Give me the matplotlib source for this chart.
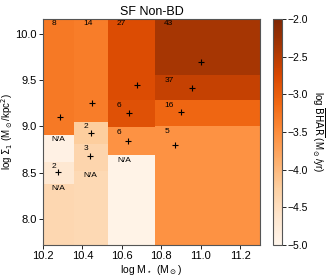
import numpy as np
import matplotlib
matplotlib.use("Agg")
import matplotlib.pyplot as plt

plt.rcParams['font.family'] = ['Liberation Sans', 'DejaVu Sans']

# mass bin edges (log M*)
x_edges = [10.2, 10.36, 10.53, 10.77, 11.3]

# sigma1 bin edges per mass column (bottom -> top)
y_edges = [
    [7.72, 8.38, 8.62, 8.91, 10.16],
    [7.72, 8.52, 8.81, 9.05, 10.16],
    [7.72, 8.69, 8.99, 9.28, 10.16],
    [7.72, 9.00, 9.28, 9.55, 10.16],
]

# log mean BHAR per bin (bottom -> top)
bhar = [
    [-4.37, -4.67, -4.90, -3.30],
    [-4.40, -4.34, -4.22, -3.33],
    [-4.95, -3.55, -2.85, -2.80],
    [-3.55, -3.10, -2.60, -2.38],
]

# number of sources per bin (None = N/A)
counts = [
    [None, 2, None, 8],
    [None, 3, 2, 14],
    [None, 6, 6, 27],
    [5, 16, 37, 43],
]

# mean positions of sources in each populated bin
pts_x = [10.285, 10.275, 10.45, 10.445, 10.44, 10.675, 10.635, 10.63, 11.0, 10.955, 10.90, 10.87]
pts_y = [9.10, 8.505, 9.25, 8.925, 8.68, 9.45, 9.14, 8.84, 9.70, 9.42, 9.16, 8.80]

fig = plt.figure(figsize=(3.3, 2.79), dpi=100)
ax = fig.add_axes([0.130, 0.122, 0.658, 0.810])
cax = fig.add_axes([0.827, 0.122, 0.028, 0.810])

for i in range(len(x_edges) - 1):
    xe = [x_edges[i], x_edges[i + 1]]
    ye = y_edges[i]
    vals = np.array(bhar[i]).reshape(-1, 1)
    mesh = ax.pcolormesh(xe, ye, vals, cmap='Oranges', vmin=-5, vmax=-2)
    for j, c in enumerate(counts[i]):
        label = 'N/A' if c is None else str(c)
        ax.text(x_edges[i] + 0.045, ye[j + 1] - 0.015, label, ha='left', va='top',
                fontsize=6, color='black')

ax.plot(pts_x, pts_y, '+', color='black', ms=5, mew=0.8)

ax.set_xlim(10.2, 11.3)
ax.set_ylim(7.72, 10.16)
ax.set_xticks([10.2, 10.4, 10.6, 10.8, 11.0, 11.2])
ax.set_yticks([8.0, 8.5, 9.0, 9.5, 10.0])
ax.tick_params(labelsize=8, length=3, width=0.6, pad=1.5)
for s in ax.spines.values():
    s.set_color('#555555')
ax.set_xlabel(r'log M$_\star$ (M$_\odot$)', fontsize=7.5, labelpad=1)
ax.set_ylabel(r'log $\Sigma_1$ (M$_\odot$/kpc$^2$)', fontsize=7, labelpad=0)
ax.set_title('SF Non-BD', fontsize=9, pad=3)

cb = fig.colorbar(mesh, cax=cax)
cb.set_ticks([-2.0, -2.5, -3.0, -3.5, -4.0, -4.5, -5.0])
cb.ax.tick_params(labelsize=7.5, length=3, width=0.6, pad=1)
cb.outline.set_edgecolor('#555555')
cb.set_label(r'log $\overline{\rm BHAR}$ (M$_\odot$/yr)', fontsize=7, rotation=270,
             va='bottom', labelpad=1)

fig.savefig('out.png', dpi=100)
